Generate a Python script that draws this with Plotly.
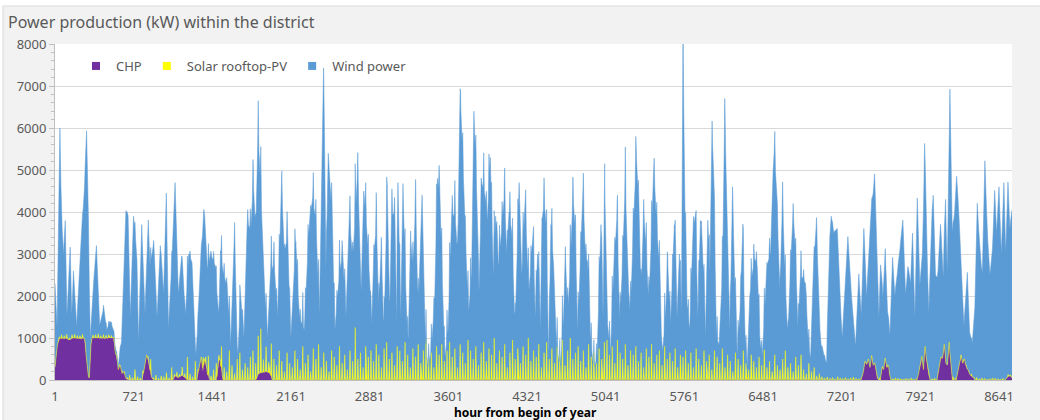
import plotly.graph_objects as go

# ---------------- data ----------------
x_tick_labels = [1, 721, 1441, 2161, 2881, 3601, 4321, 5041, 5761, 6481, 7201, 7921, 8641]
y_tick_values = [0, 1000, 2000, 3000, 4000, 5000, 6000, 7000, 8000]

# CHP (kW) at given hours of the year
chp_hours = [1, 10, 25, 40, 80, 100, 130, 160, 200, 240, 270, 285, 300, 315, 328, 340, 400, 450, 500, 536,
             550, 567, 580, 598, 613, 630, 650, 680, 800, 820, 840, 860, 880, 900, 1080, 1100, 1130, 1160,
             1190, 1210, 1300, 1320, 1340, 1355, 1370, 1385, 1400, 1420, 1480, 1495, 1510, 1525, 1540,
             1840, 1860, 1900, 1940, 1970, 1990, 7380, 7400, 7415, 7430, 7445, 7460, 7475, 7490, 7505,
             7520, 7535, 7555, 7570, 7585, 7600, 7615, 7630, 7645, 7890, 7905, 7920, 7935, 7950, 7965,
             7980, 7995, 8010, 8075, 8090, 8110, 8125, 8140, 8155, 8170, 8185, 8200, 8215, 8250, 8265,
             8280, 8295, 8310, 8325, 8340, 8355, 8370, 8385, 8400, 8420, 8700, 8720, 8740, 8760]
chp_kw = [300, 600, 850, 1000, 980, 1000, 950, 1000, 1000, 980, 1000, 600, 100, 50, 800, 1000, 1000, 990, 1000, 1000,
          700, 500, 250, 350, 150, 200, 30, 0, 0, 300, 600, 400, 100, 0, 0, 100, 50, 120,
          60, 0, 0, 300, 550, 200, 500, 300, 100, 0, 0, 400, 500, 200, 0,
          0, 150, 180, 200, 150, 0, 0, 200, 450, 350, 500, 300, 550, 350, 400,
          100, 0, 0, 300, 250, 500, 300, 350, 0, 0, 150, 300, 550, 250, 800,
          400, 150, 0, 0, 300, 550, 500, 850, 400, 350, 900, 300, 0, 0, 250,
          400, 550, 400, 500, 300, 250, 150, 100, 80, 0, 0, 80, 100, 50]

# Solar rooftop-PV: daily midday peak (kW), day 0 .. day 364
solar_daily_peak = [
    80, 60, 90, 70, 100, 50, 80, 90, 60, 70, 100, 80, 60, 90, 70, 80, 100, 60, 90, 70, 80, 60, 100, 90, 70, 80, 60,
    40, 120, 60, 250, 80, 50, 150, 30, 90, 350, 60, 120, 40, 100, 80, 180, 50, 300, 70, 120, 60, 200, 90, 550, 150, 80, 450, 120, 60, 300, 200, 500, 100,
    250, 400, 150, 600, 300, 200, 700, 350, 150, 500, 650, 250, 400, 300, 550,
    700, 400, 900, 1050, 300, 600, 250, 800, 500, 350, 700, 450, 200, 650, 400,
    300, 700, 500, 250, 800, 400, 600, 200, 750, 500, 850, 300, 650, 450, 200, 700, 550, 350, 800, 400, 600, 250, 700, 450, 1250, 500, 650, 300, 800, 550,
    700, 450, 850, 600, 300, 750, 900, 500, 650, 350, 800, 700, 450, 900, 600, 300, 750, 550, 850, 400, 700, 950, 500, 650, 300, 800, 600, 850, 450, 700,
    900, 550, 750, 300, 850, 650, 400, 950, 700, 500, 800, 350, 650, 900, 450, 750, 600, 1000, 400, 700, 550, 850, 300, 650, 950, 500, 750, 400, 800, 600,
    1000, 450, 700, 550, 850, 300, 650, 900, 500, 750, 400, 800, 600, 950, 350, 700, 1000, 500, 650, 800, 450, 700, 300, 850, 550, 650, 400, 750, 500, 900,
    950, 600, 800, 400, 950, 650, 500, 850, 350, 700, 600, 800, 450, 650, 300, 750, 550, 850, 400, 600, 700, 350, 800, 500, 650, 450, 750, 300, 600, 550,
    700, 400, 650, 300, 750, 500, 350, 700, 450, 600, 250, 700, 550, 400, 750, 300, 600, 450, 200, 650, 500, 350, 700, 400, 250, 600, 450, 300, 550, 350,
    720, 300, 450, 200, 600, 350, 250, 500, 700, 300, 400, 200, 550, 350, 600, 250, 150, 400, 200, 300, 100, 150, 80,
    50, 70, 40, 60, 30, 80, 50, 40, 60, 30, 50, 70, 40, 30, 60, 50, 40, 30, 50, 20, 40, 60, 30, 50, 40, 20, 30, 50, 40, 30, 20, 40, 30, 50, 20, 30, 40, 20, 30, 50, 20, 30, 40, 20, 30, 40, 20,
    60, 40, 80, 50, 30, 70, 40, 60, 30, 50, 40, 60, 30, 50, 40, 20, 30, 50, 40, 30, 20, 40, 30, 50, 40,
]

# Wind power (kW) at given hours of the year
wind_hours = [1, 20, 46, 60, 80, 95, 110, 140, 155, 170, 200, 230, 270, 290, 305, 325, 345, 380, 410, 445, 475, 505,
              550, 580, 610, 650, 670, 690, 720, 750, 765, 795, 825, 855, 870, 905, 935, 965, 995, 1020, 1040,
              1070, 1100, 1130, 1160, 1195, 1225, 1255, 1285, 1315, 1363, 1395,
              1424, 1470, 1501, 1516, 1547, 1577, 1608, 1645, 1669, 1700, 1730, 1761, 1792, 1816, 1838, 1859,
              1883, 1914, 1945, 1975, 2006, 2037, 2076, 2098, 2128, 2159, 2205, 2236, 2282, 2328, 2358, 2389,
              2420, 2459, 2481, 2502, 2533, 2563, 2603, 2634, 2664, 2695, 2726, 2772, 2802, 2827, 2857, 2888,
              2895, 2920, 2944, 2962, 2987, 3011, 3042, 3063, 3085, 3109, 3128, 3140, 3165, 3186, 3207, 3232,
              3256, 3278, 3302, 3324, 3361, 3385, 3416, 3446, 3477, 3501, 3523, 3544, 3569, 3599, 3630, 3661,
              3685, 3713, 3728, 3753, 3783, 3814, 3835, 3860, 3881, 3906, 3936, 3958, 3985, 4013, 4034, 4059,
              4090, 4114, 4135, 4157, 4181, 4212, 4249, 4273, 4304, 4335,
              4351, 4375, 4397, 4418, 4443, 4458, 4479, 4498, 4519, 4540, 4565, 4589, 4626, 4656, 4672, 4693,
              4717, 4742, 4763, 4785, 4809, 4833, 4855, 4876, 4901, 4931, 4962, 4998, 5017, 5032, 5053, 5084,
              5114, 5145, 5169, 5191, 5221, 5242, 5267, 5297, 5322, 5343, 5365, 5389, 5413, 5435, 5456, 5481,
              5505, 5536, 5557, 5588, 5609, 5633, 5670, 5694, 5716, 5734, 5749, 5765, 5786, 5810,
              5841, 5863, 5884, 5909, 5933, 5954, 5976, 5994, 6015, 6031, 6055, 6086, 6113, 6131, 6153, 6177,
              6202, 6220, 6244, 6269, 6296, 6315, 6336, 6360, 6382, 6403, 6428, 6452, 6473, 6504, 6525, 6550,
              6574, 6586, 6611, 6635, 6660, 6681, 6708, 6733, 6757, 6779, 6800, 6824, 6849, 6870, 6892, 6916,
              6947, 6971, 6993, 7014, 7038, 7063, 7084, 7105, 7130, 7160, 7185, 7206, 7237, 7258, 7276,
              7306, 7328, 7358, 7380, 7404, 7429, 7450, 7471, 7490, 7502, 7520, 7542, 7557, 7578, 7600, 7618,
              7642, 7667, 7688, 7709, 7734, 7761, 7786, 7807, 7832, 7850, 7871, 7893, 7917, 7938, 7960, 7978,
              7999, 8021, 8039, 8060, 8082, 8106, 8131, 8152, 8167, 8192, 8213, 8235, 8253, 8274, 8296, 8320,
              8351, 8372, 8396, 8418, 8442, 8467, 8488, 8512, 8534, 8558, 8580, 8601, 8619, 8641, 8662, 8686,
              8702, 8723, 8741, 8760]
wind_kw = [2000, 500, 5000, 2900, 2000, 2800, 500, 2200, 500, 1600, 250, 2000, 3500, 5500, 4150, 200, 1000, 2200, 300, 700, 200, 400,
           100, 50, 700, 4000, 3900, 1500, 3900, 3000, 900, 3700, 1200, 3300, 2500, 3300, 1500, 3200, 2000, 4300, 1200,
           2800, 4600, 2000, 2800, 1500, 3000, 2800, 400, 1500, 3700, 2500,
           3000, 2700, 1000, 2700, 2500, 2200, 800, 3600, 300, 2000, 1000, 3800, 3500, 4700, 3500, 5700,
           4500, 2000, 800, 2500, 2800, 1500, 4600, 3000, 3400, 1000, 3300, 1500, 1200, 3700, 4300, 3800,
           1500, 7000, 2500, 5400, 4000, 1200, 2500, 3000, 1500, 3900, 2800, 5000, 2000, 4500, 3500, 2000,
           1000, 3000, 3700, 1500, 3200, 1000, 4500, 1500, 3900, 4000, 1200, 4700, 1500, 4600, 2500, 700,
           3400, 2500, 4300, 1500, 4400, 1000, 300, 700, 2000, 4800, 4400, 2500, 500, 1200, 3800, 4000,
           3000, 6600, 5600, 3800, 1500, 2500, 6400, 4500, 2000, 4700, 4400, 3800, 5300, 2500, 3900, 2700,
           3600, 4400, 3000, 4000, 3500, 1200, 4700, 2500, 4300, 2000,
           2500, 3500, 1500, 3000, 1200, 3800, 4200, 3600, 500, 3700, 2700, 800, 300, 1500, 3000, 1500,
           2700, 4400, 3500, 1000, 2800, 4500, 3000, 2800, 1000, 300, 500, 3700, 1500, 4700, 1500, 600,
           2500, 3900, 1200, 2500, 4700, 2500, 1500, 3800, 5300, 4200, 2000, 4000, 3000, 1800, 3000, 5100,
           3800, 2500, 500, 1500, 2800, 1200, 3700, 1500, 3000, 1500, 7990, 4200, 1800, 1200,
           3500, 4000, 1500, 3800, 2700, 1000, 3800, 2500, 6000, 4500, 1000, 800, 3000, 6500, 3500, 1000,
           4500, 2500, 600, 1500, 3600, 1000, 300, 2000, 2500, 2900, 2700, 1000, 500, 2000, 2800, 3000,
           5000, 5500, 4000, 2000, 4300, 2500, 1000, 2700, 4000, 3000, 1200, 2500, 2400, 2300, 1000, 500,
           2800, 3800, 1500, 800, 600, 400, 3000, 3900, 3500, 3600, 2000, 1000, 2500, 3400, 2500,
           1500, 800, 2500, 1500, 3300, 1600, 2600, 3600, 4100, 4500, 3200, 1500, 2700, 1700, 2600, 1300,
           1000, 2900, 2000, 2500, 3100, 3800, 2000, 2700, 2300, 3500, 1500, 4300, 2000, 2400, 5000, 2900,
           1500, 3700, 4400, 2500, 2400, 3200, 1800, 3800, 2200, 6300, 3500, 4000, 4800, 3600, 2100, 800,
           2300, 1000, 800, 1500, 4200, 3000, 2500, 5200, 3500, 2500, 3000, 4500, 3500, 4600, 3000, 4700,
           3000, 4600, 3500, 4000]

# ---------------- build solar day/night shape from the daily peaks ----------------
solar_hours, solar_kw = [], []
for day, peak in enumerate(solar_daily_peak):
    solar_hours += [day * 24 + 7, day * 24 + 13, day * 24 + 19]
    solar_kw += [0, peak, 0]

C_CHP = "#7030A0"
C_PV = "#FFFF00"
C_WIND = "#5B9BD5"
TXT = "#595959"
FONT = "Noto Sans"

fig = go.Figure()
fig.add_trace(go.Scatter(x=chp_hours, y=chp_kw, name="CHP", stackgroup="one", stackgaps="interpolate",
                         mode="lines", line=dict(color=C_CHP, width=0.5), fillcolor=C_CHP, showlegend=False))
fig.add_trace(go.Scatter(x=solar_hours, y=solar_kw, name="Solar rooftop-PV", stackgroup="one",
                         mode="lines", line=dict(color=C_PV, width=0.5), fillcolor=C_PV, showlegend=False))
fig.add_trace(go.Scatter(x=wind_hours, y=wind_kw, name="Wind power", stackgroup="one",
                         mode="lines", line=dict(color=C_WIND, width=0.5), fillcolor=C_WIND, showlegend=False))

# legend entries with square symbols (like the reference)
for nm, col in [("CHP", C_CHP), ("Solar rooftop-PV", C_PV), ("Wind power", C_WIND)]:
    fig.add_trace(go.Scatter(x=[None], y=[None], mode="markers", name=nm,
                             marker=dict(symbol="square", size=8, color=col)))

W, H = 1040, 420
L, R, T, B = 55, 28, 44, 40
pw, ph = W - L - R, H - T - B

def px_x(p):
    return (p - L) / pw

def px_y(p):
    return (H - B - p) / ph

fig.update_layout(
    width=W, height=H,
    margin=dict(l=L, r=R, t=T, b=B, autoexpand=False),
    paper_bgcolor="#F2F2F2",
    plot_bgcolor="#FFFFFF",
    font=dict(family=FONT, color=TXT, size=13),
    title=dict(text="Power production (kW) within the district", x=8 / W, xanchor="left",
               y=1 - 22 / H, yanchor="middle", font=dict(size=16, color=TXT, family=FONT)),
    legend=dict(orientation="h", x=px_x(76), y=px_y(51), xanchor="left", yanchor="top",
                bgcolor="rgba(0,0,0,0)", font=dict(size=13, color=TXT, family=FONT),
                itemwidth=30, traceorder="normal"),
    xaxis=dict(range=[1, 8760], tickmode="array", tickvals=x_tick_labels, automargin=False,
               ticktext=[str(v) for v in x_tick_labels], showgrid=False, zeroline=False,
               showline=True, linecolor="#BFBFBF", linewidth=1, ticks="",
               tickfont=dict(size=13, color=TXT), ticklabelstandoff=4),
    yaxis=dict(range=[0, 8000], tickmode="array", tickvals=y_tick_values, showgrid=True, automargin=False,
               gridcolor="#D9D9D9", gridwidth=1, zeroline=False, showline=True, linecolor="#BFBFBF",
               ticks="outside", ticklen=5, tickcolor="#BFBFBF", tickfont=dict(size=13, color=TXT),
               minor=dict(dtick=200, ticks="outside", ticklen=3, tickcolor="#BFBFBF", showgrid=False)),
    annotations=[
        dict(text="<b>hour from begin of year</b>", xref="paper", yref="paper", x=px_x(525), y=px_y(412),
             xanchor="center", yanchor="middle", showarrow=False, font=dict(size=12, color="#000000", family=FONT)),
    ],
    shapes=[
        dict(type="rect", xref="paper", yref="paper", x0=px_x(0), x1=px_x(W), y0=px_y(0), y1=px_y(6),
             fillcolor="#FFFFFF", line=dict(width=0), layer="below"),
        dict(type="rect", xref="paper", yref="paper", x0=px_x(0), x1=px_x(3), y0=px_y(H), y1=px_y(0),
             fillcolor="#FFFFFF", line=dict(width=0), layer="below"),
        dict(type="line", xref="paper", yref="paper", x0=px_x(3), x1=px_x(W), y0=px_y(6), y1=px_y(6),
             line=dict(color="#D9D9D9", width=1)),
        dict(type="line", xref="paper", yref="paper", x0=px_x(3), x1=px_x(3), y0=px_y(6), y1=px_y(H),
             line=dict(color="#D9D9D9", width=1)),
    ],
)

# remove the browser's default 8px page margin so the figure sits at the window's top-left corner
fig.write_html("out.html", config={"displayModeBar": False},
               post_script="document.body.style.margin='0px';")
